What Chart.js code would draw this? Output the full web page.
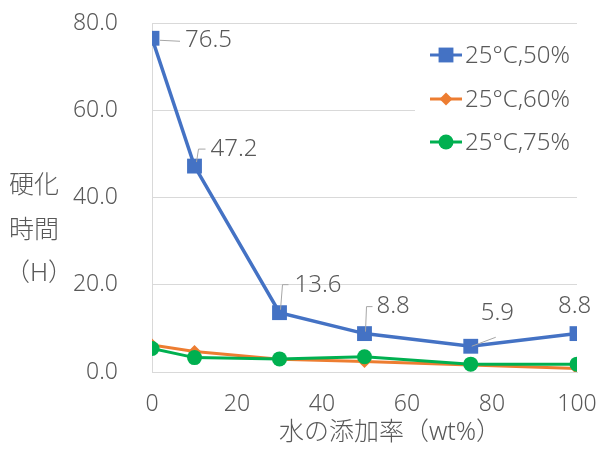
<!DOCTYPE html>
<html><head><meta charset="utf-8">
<script src="https://cdn.jsdelivr.net/npm/chart.js@4/dist/chart.umd.min.js"></script>
<style>html,body{margin:0;padding:0;background:#fff}#wrap{width:598px;height:449px}</style>
</head><body><div id="wrap"><canvas id="c" width="598" height="449"></canvas></div>
<script>
// Hardening time vs. water addition rate
const waterRates = [0, 10, 30, 50, 75, 100];
const series50 = [76.5, 47.2, 13.6, 8.8, 5.9, 8.8];
const series60 = [6.2, 4.7, 2.9, 2.4, 1.6, 0.8];
const series75 = [5.4, 3.3, 3.0, 3.5, 1.8, 1.8];
const seriesNames = ['25°C,50%', '25°C,60%', '25°C,75%'];
const xTicks = [0, 20, 40, 60, 80, 100];
const yTicks = [0, 20, 40, 60, 80];
const yTitleLines = ['硬化', '時間', '（H）'];
const xTitle = '水の添加率（wt%）';

const FONT = '"Noto Sans", "Noto Sans CJK JP", sans-serif';
const WEIGHT = 300;
const TEXT = '#595959';
const colors = ['#4472C4', '#ED7D31', '#00B050'];
const markers = [
  {style: 'rect', r: 10.5},
  {style: 'rectRot', r: 6.5},
  {style: 'circle', r: 7.5}
];

// label placement for the 25°C,50% values (offsets from each point, px)
const labelPlacement = [
  {dx: 33, dy: 2, leader: [[8, 2], [28, 3]]},
  {dx: 16, dy: -17, leader: [[2, -4], [4, -17], [11, -17]]},
  {dx: 15, dy: -28, leader: [[1, -3], [3, -28], [9, -28]]},
  {dx: 12, dy: -27, leader: [[1, -2], [2, -27], [8, -27]]},
  {dx: 10, dy: -33, leader: [[1, 0], [25, -9]]},
  {dx: -19, dy: -27, leader: null}
];

function toPoints(vals) { return vals.map((v, i) => ({x: waterRates[i], y: v})); }
function font(size) { return WEIGHT + ' ' + size + 'px ' + FONT; }

function drawMarker(ctx, m, color, x, y) {
  ctx.save();
  ctx.fillStyle = color;
  ctx.beginPath();
  if (m.style === 'rect') {
    const s = m.r * Math.SQRT1_2;
    ctx.rect(x - s, y - s, 2 * s, 2 * s);
  } else if (m.style === 'rectRot') {
    ctx.moveTo(x, y - m.r); ctx.lineTo(x + m.r, y); ctx.lineTo(x, y + m.r); ctx.lineTo(x - m.r, y);
    ctx.closePath();
  } else {
    ctx.arc(x, y, m.r, 0, Math.PI * 2);
  }
  ctx.fill();
  ctx.restore();
}

const annotations = {
  id: 'annotations',
  afterDatasetsDraw(chart) {
    const ctx = chart.ctx;
    const meta = chart.getDatasetMeta(0);
    ctx.save();
    ctx.font = font(24);
    ctx.fillStyle = TEXT;
    ctx.textBaseline = 'middle';
    ctx.textAlign = 'left';
    meta.data.forEach((pt, i) => {
      const p = labelPlacement[i];
      const x = pt.x, y = pt.y;
      if (p.leader) {
        ctx.strokeStyle = '#A6A6A6';
        ctx.lineWidth = 1;
        ctx.beginPath();
        p.leader.forEach((q, k) => k ? ctx.lineTo(x + q[0], y + q[1]) : ctx.moveTo(x + q[0], y + q[1]));
        ctx.stroke();
      }
      ctx.fillText(series50[i].toFixed(1), x + p.dx, y + p.dy);
    });
    ctx.restore();
  },
  afterDraw(chart) {
    const ctx = chart.ctx;
    ctx.save();
    // legend
    ctx.fillStyle = '#fff';
    ctx.fillRect(415, 33, 183, 128);
    const rows = [55, 99, 142];
    ctx.font = font(24);
    ctx.textBaseline = 'middle';
    ctx.textAlign = 'left';
    seriesNames.forEach((name, i) => {
      const y = rows[i];
      ctx.strokeStyle = colors[i];
      ctx.lineWidth = 3;
      ctx.beginPath(); ctx.moveTo(430, y); ctx.lineTo(462, y); ctx.stroke();
      drawMarker(ctx, markers[i], colors[i], 446, y);
      ctx.fillStyle = TEXT;
      ctx.fillText(name, 465, y + 1);
    });
    // axis titles
    ctx.fillStyle = TEXT;
    ctx.font = font(25);
    ctx.textAlign = 'left';
    const yRows = [186, 231, 274];
    yTitleLines.forEach((t, i) => ctx.fillText(t, i === 2 ? 5 : 9, yRows[i]));
    ctx.textAlign = 'center';
    ctx.fillText(xTitle, 390, 433);
    ctx.restore();
  }
};

new Chart(document.getElementById('c'), {
  type: 'line',
  data: {
    datasets: [series50, series60, series75].map((vals, i) => ({
      label: seriesNames[i],
      data: toPoints(vals),
      borderColor: colors[i],
      backgroundColor: colors[i],
      borderWidth: i === 0 ? 3.5 : 3,
      pointStyle: markers[i].style,
      pointRadius: markers[i].r,
      pointBorderWidth: 0,
      pointBackgroundColor: colors[i],
      tension: 0,
      order: 3 - i
    }))
  },
  options: {
    responsive: false,
    devicePixelRatio: 1,
    animation: false,
    layout: {padding: {top: 23, right: 21, left: 0, bottom: 0}},
    plugins: {legend: {display: false}, tooltip: {enabled: false}},
    scales: {
      x: {
        type: 'linear', min: 0, max: 100,
        afterBuildTicks: s => { s.ticks = xTicks.map(v => ({value: v})); },
        afterFit: s => { s.height = 77; s.paddingLeft = 0; s.paddingRight = 0; },
        grid: {display: false, drawTicks: false},
        border: {display: true, color: '#D9D9D9', width: 1},
        ticks: {color: TEXT, font: {family: FONT, size: 23, weight: WEIGHT}, padding: 19, maxRotation: 0}
      },
      y: {
        min: 0, max: 80,
        afterBuildTicks: s => { s.ticks = yTicks.map(v => ({value: v})); },
        afterFit: s => { s.width = 152; s.paddingTop = 0; s.paddingBottom = 0; },
        grid: {color: '#D9D9D9', lineWidth: 1, drawTicks: false},
        border: {display: true, color: '#D9D9D9', width: 1},
        ticks: {color: TEXT, font: {family: FONT, size: 23, weight: WEIGHT}, padding: 34, callback: v => Number(v).toFixed(1)}
      }
    }
  },
  plugins: [annotations]
});
</script></body></html>
